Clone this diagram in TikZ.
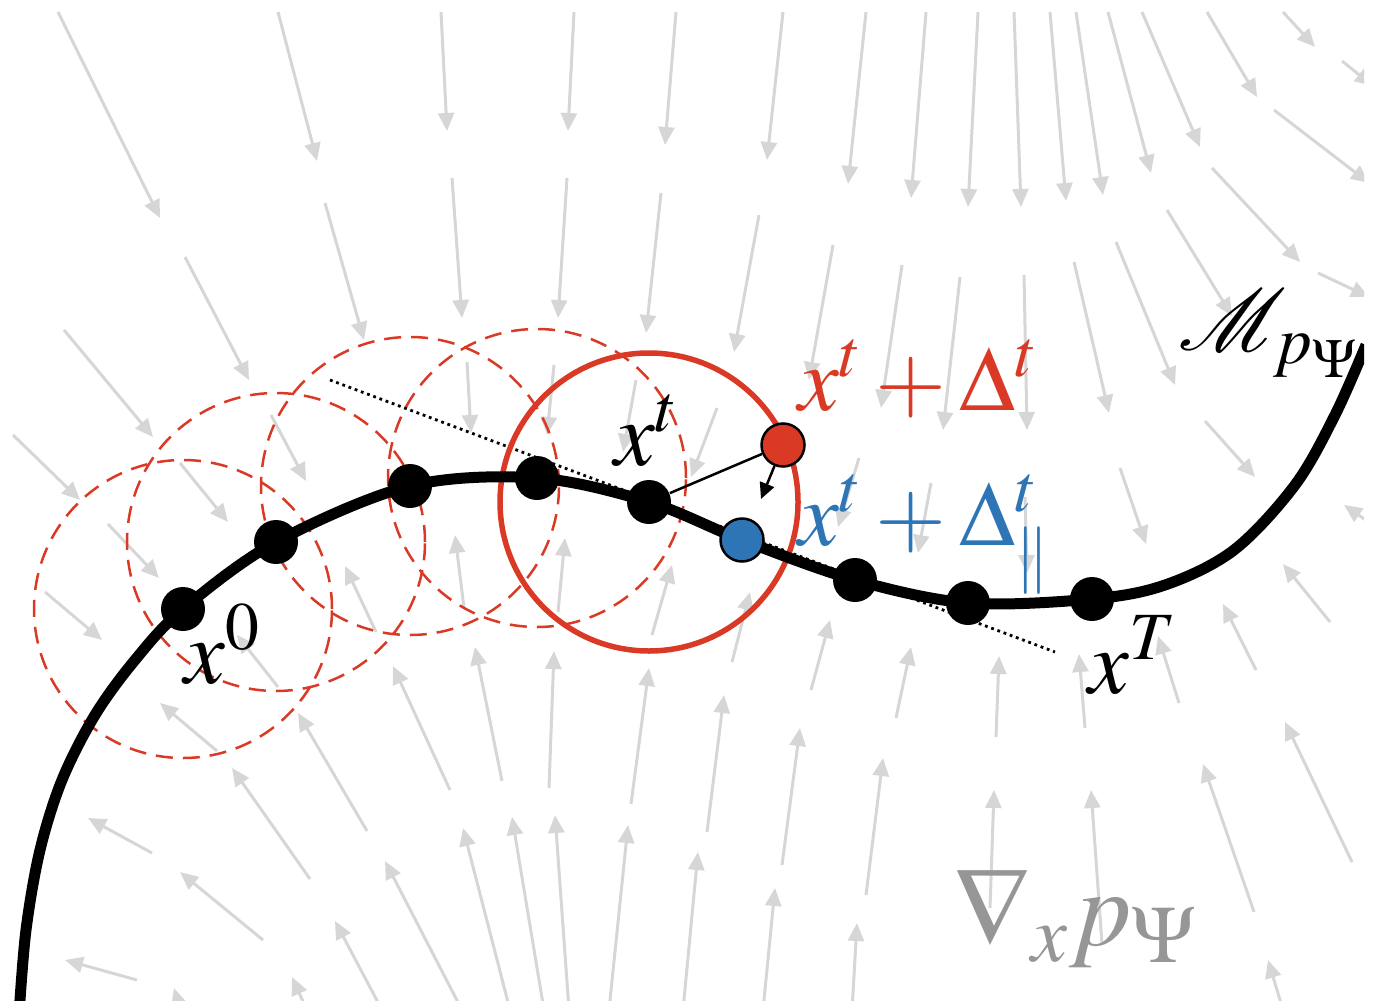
\documentclass[tikz,border=0pt]{standalone}
\usepackage{mathptmx}
\usepackage{mathrsfs}
\usetikzlibrary{arrows.meta}
\definecolor{redc}{RGB}{218,58,37}
\definecolor{bluec}{RGB}{46,117,182}
\definecolor{fieldgray}{RGB}{214,214,214}
\definecolor{labgray}{RGB}{150,150,150}
\begin{document}
\begin{tikzpicture}[x=0.1mm,y=-0.1mm,
  fa/.style={draw=fieldgray, line width=0.3mm, -{Triangle[length=1.8mm,width=1.6mm]}},
  mdot/.style={circle, fill=black, minimum size=4.4mm, inner sep=0pt},
  cdot/.style={circle, draw=black, line width=0.25mm, minimum size=4.3mm, inner sep=0pt},
  lbl/.style={inner sep=0pt, anchor=base west, font=\fontsize{26}{30}\selectfont},
  biglbl/.style={inner sep=0pt, anchor=base west, font=\fontsize{31}{36}\selectfont},
  dcirc/.style={draw=redc, line width=0.25mm, dash pattern=on 1.7mm off 1.0mm},
]
\useasboundingbox (0,0) rectangle (1374,1004);
\begin{scope}
\clip (0,12) rectangle (1364,1000);
% gradient field (pointing towards the manifold)
\foreach \a/\b/\c/\d in {58/12/160/218, 278/12/317/161, 441/12/447/131, 574/12/568/131, 676/12/665/145, 783/12/767/160, 866/12/848/184, 926/12/911/198, 978/12/968/207, 1014/12/1021/207, 1050/12/1066/201, 1076/12/1103/195, 1108/12/1151/173, 1142/12/1200/147, 1207/12/1257/97, 1283/12/1315/47, 1342/61/1373/86,
185/257/249/380, 325/203/364/340, 452/178/462/318, 567/178/558/318, 661/193/646/333, 759/215/734/352, 833/245/809/380, 902/265/881/408, 960/277/943/430, 1024/275/1027/430, 1074/262/1109/413, 1116/242/1175/385, 1167/210/1232/316, 1212/168/1300/262, 1274/110/1369/183, 1318/273/1369/297,
64/330/153/437, 13/435/80/500, 271/415/306/481, 467/362/471/433, 554/365/547/435, 636/380/623/452, 717/408/691/477, 859/458/838/527, 931/483/918/553, 1025/497/1027/573, 1120/468/1146/544, 1205/421/1255/477, 108/524/159/578, 45/592/102/640, 180/463/228/522,
1373/525/1344/505, 652/635/672/565, 732/662/750/592, 811/690/830/620, 896/718/911/647, 996/737/999/656, 1085/728/1079/654, 1179/703/1158/636, 1256/670/1223/604, 1330/622/1283/564, 1352/862/1285/722, 1254/912/1203/764, 1102/944/1091/790, 990/908/994/790, 1283/1010/1268/960,
502/781/475/647, 549/788/554/651, 631/804/649/668, 707/832/724/695, 782/865/800/728, 866/895/883/758,
510/1010/463/828, 544/1010/512/817, 569/1010/555/815, 609/1010/628/825, 683/1010/698/852, 763/1010/775/888, 852/1010/857/923,
464/608/455/535, 558/612/565/538, 376/632/345/566, 450/790/393/666, 278/687/237/635, 217/751/160/703, 367/831/298/713, 152/853/88/818, 310/879/232/768, 263/940/180/872, 462/1010/385/861, 137/980/65/960, 382/1010/335/921, 188/1035/174/988, 318/1035/292/977}
  \draw[fa] (\a,\b) -- (\c,\d);
\end{scope}
% neighbourhoods of the previous iterates
\coordinate (c0) at (183,609);
\coordinate (c1) at (276,542);
\coordinate (c2) at (410,486);
\coordinate (c3) at (537,478);
\coordinate (ct) at (649,502);
\foreach \c in {c0,c1,c2,c3} \draw[dcirc] (\c) circle[radius=14.9mm];
% tangent line
\coordinate (tanA) at (330,380);
\coordinate (tanB) at (1055,652);
\draw[line width=0.28mm, dash pattern=on 0.28mm off 0.38mm] (tanA) -- (tanB);
% trust region
\draw[redc, line width=0.55mm] (ct) circle[radius=14.9mm];
% manifold
\begin{scope}
\clip (0,12) rectangle (1364,1000);
\draw[line width=1.1mm, line join=round] plot[smooth, tension=0.55] coordinates {(19,1015) (26,930) (40,850) (62,780) (95,715) (135,660) (183,609) (276,542) (410,486) (537,478) (649,502) (742,540) (855,580) (968,603) (1092,599) (1165,585) (1234,550) (1295,485) (1335,415) (1366,345)};
\end{scope}
% iterates
\node[mdot] (p0) at (c0) {};
\node[mdot] (p1) at (c1) {};
\node[mdot] (p2) at (c2) {};
\node[mdot] (p3) at (c3) {};
\node[mdot] (xt) at (ct) {};
\node[mdot] (p5) at (855,580) {};
\node[mdot] (p6) at (968,603) {};
\node[mdot] (pT) at (1092,599) {};
\node[cdot, fill=redc] (rd) at (783,445) {};
\draw[line width=0.25mm] (xt) -- (rd);
\node[cdot, fill=bluec] (pb) at (742,540) {};
\coordinate (proj) at (761,499);
\draw[line width=0.25mm, -{Triangle[length=1.6mm,width=1.5mm]}] (rd) -- (proj);
% labels
\node[lbl] (l0) at (184,683) {$x^{0}$};
\node[lbl] (lt) at (614,465) {$x^{t}$};
\node[lbl] (lT) at (1088,693) {$x^{T}$};
\node[lbl, text=redc] (lr) at (798,410) {$x^{t}+\Delta^{t}$};
\node[lbl, text=bluec] (lb) at (798,545) {$x^{t}+\Delta^{t}_{\parallel}$};
\node[lbl] (lM) at (1178,350) {$\mathscr{M}_{p_{\Psi}}$};
\node[biglbl, text=labgray] (lg) at (953,945) {$\nabla_{x}p_{\Psi}$};
\end{tikzpicture}
\end{document}
